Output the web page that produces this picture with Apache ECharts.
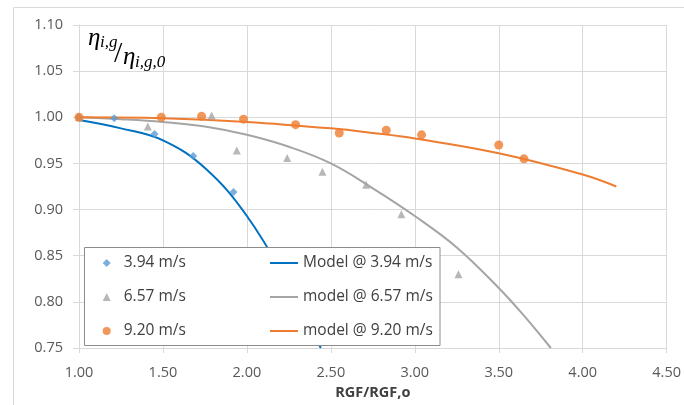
<!DOCTYPE html>
<html>
<head>
<meta charset="utf-8">
<script src="https://cdn.jsdelivr.net/npm/echarts@6/dist/echarts.min.js"></script>
<style>
  html, body { margin: 0; padding: 0; background: #ffffff; }
  #chart { width: 684px; height: 405px; }
</style>
</head>
<body>
<div id="chart"></div>
<script>
// Axis ticks
const xTicks = [1.00, 1.50, 2.00, 2.50, 3.00, 3.50, 4.00, 4.50];
const yTicks = [0.75, 0.80, 0.85, 0.90, 0.95, 1.00, 1.05, 1.10];

// Measured efficiency ratios [RGF/RGF,o, eta/eta0]
const meas394 = [[1.00, 1.000], [1.21, 0.999], [1.45, 0.982], [1.68, 0.958], [1.92, 0.919]];
const meas657 = [[1.00, 1.000], [1.41, 0.990], [1.79, 1.002], [1.94, 0.964], [2.24, 0.956],
                 [2.45, 0.941], [2.71, 0.927], [2.92, 0.895], [3.26, 0.830]];
const meas920 = [[1.00, 1.000], [1.49, 1.000], [1.73, 1.001], [1.98, 0.998], [2.29, 0.992],
                 [2.55, 0.983], [2.83, 0.986], [3.04, 0.981], [3.50, 0.970], [3.65, 0.955]];

// Model curves
const model394 = [[1.00, 0.997], [1.25, 0.988], [1.50, 0.975], [1.75, 0.945], [2.00, 0.893],
                  [2.25, 0.818], [2.44, 0.750]];
const model657 = [[1.00, 1.000], [1.25, 0.998], [1.50, 0.995], [1.75, 0.990], [2.00, 0.981],
                  [2.25, 0.968], [2.50, 0.950], [2.75, 0.923], [3.00, 0.893], [3.25, 0.859],
                  [3.50, 0.815], [3.65, 0.785], [3.81, 0.750]];
const model920 = [[1.00, 1.000], [1.50, 0.999], [2.00, 0.995], [2.50, 0.988], [2.75, 0.983],
                  [3.00, 0.977], [3.50, 0.961], [4.00, 0.938], [4.20, 0.925]];

const measNames = ['3.94 m/s', '6.57 m/s', '9.20 m/s'];
const measIcons = ['diamond', 'triangle', 'circle'];
const modelNames = ['Model @ 3.94 m/s', 'model @ 6.57 m/s', 'model @ 9.20 m/s'];

const BLUE_PT = '#5b9bd5', BLUE_LN = '#0070c0';
const GRAY_PT = '#a5a5a5', GRAY_LN = '#a5a5a5';
const ORANGE = '#ed7d31';
const GRID = '#d9d9d9';
const TXT = '#404040';
const UI_FONT = '"Open Sans", "Liberation Sans", sans-serif';
const MATH_FONT = '"Liberation Serif", "DejaVu Serif", serif';

const chart = echarts.init(document.getElementById('chart'), null, { renderer: 'canvas' });

function scatter(name, data, symbol, size, color) {
  return { type: 'scatter', name, data, symbol, symbolSize: size,
           itemStyle: { color }, z: 2 };
}
function model(name, data, color) {
  return { type: 'line', name, data, smooth: 0.4,
           symbol: 'none', showSymbol: false, clip: true,
           lineStyle: { color, width: 2 }, itemStyle: { color }, z: 2 };
}

const legendText = { fontFamily: UI_FONT, fontSize: 15.5, color: TXT, lineHeight: 16 };

chart.setOption({
  animation: false,
  backgroundColor: '#ffffff',
  grid: { left: 79, top: 25, right: 13.3, bottom: 52.3, containLabel: false },
  xAxis: {
    type: 'value',
    min: xTicks[0], max: xTicks[xTicks.length - 1], interval: xTicks[1] - xTicks[0],
    name: 'RGF/RGF,o', nameLocation: 'middle', nameGap: 37,
    nameTextStyle: { fontFamily: UI_FONT, fontSize: 14.5, fontWeight: 'bold', color: TXT },
    axisLine: { show: true, lineStyle: { color: GRID, width: 1 } },
    axisTick: { show: true, length: 5, lineStyle: { color: GRID } },
    splitLine: { show: true, lineStyle: { color: GRID, width: 1 } },
    axisLabel: { fontFamily: UI_FONT, fontSize: 14.5, color: '#595959', margin: 17,
                 formatter: v => v.toFixed(2) }
  },
  yAxis: {
    type: 'value',
    min: yTicks[0], max: yTicks[yTicks.length - 1], interval: 0.05,
    axisLine: { show: true, lineStyle: { color: GRID, width: 1 } },
    axisTick: { show: true, length: 6, lineStyle: { color: GRID } },
    splitLine: { show: true, lineStyle: { color: GRID, width: 1 } },
    axisLabel: { fontFamily: UI_FONT, fontSize: 14.5, color: '#595959', margin: 16,
                 formatter: v => v.toFixed(2) }
  },
  legend: [
    { data: measNames.map((n, i) => ({ name: n, icon: measIcons[i] })),
      orient: 'vertical', left: 102.7, top: 255, padding: 0,
      itemWidth: 8, itemHeight: 8, itemGap: 18, z: 10,
      textStyle: Object.assign({ padding: [0, 0, 0, 8] }, legendText) },
    { data: modelNames.map(n => ({ name: n, icon: 'rect' })),
      orient: 'vertical', left: 270, top: 255, padding: 0,
      itemWidth: 28, itemHeight: 2, itemGap: 18, z: 10, textStyle: legendText }
  ],
  graphic: [
    { type: 'rect', z: 0, silent: true,
      shape: { x: 13.5, y: 7.5, width: 700, height: 420 },
      style: { fill: 'none', stroke: GRID, lineWidth: 1 } },
    { type: 'rect', z: 5, silent: true,
      shape: { x: 84.5, y: 247.5, width: 355.5, height: 98 },
      style: { fill: '#ffffff', stroke: '#8c8c8c', lineWidth: 1 } },
    { type: 'text', z: 6, x: 88, y: 38, style: { text: 'η', font: 'italic 25px ' + MATH_FONT, fill: '#000', verticalAlign: 'middle' } },
    { type: 'text', z: 6, x: 100, y: 43, style: { text: 'i,g', font: 'italic 17px ' + MATH_FONT, fill: '#000', verticalAlign: 'middle' } },
    { type: 'text', z: 6, x: 114, y: 54, style: { text: '/', font: '30px ' + MATH_FONT, fill: '#000', verticalAlign: 'middle' } },
    { type: 'text', z: 6, x: 123, y: 57, style: { text: 'η', font: 'italic 25px ' + MATH_FONT, fill: '#000', verticalAlign: 'middle' } },
    { type: 'text', z: 6, x: 135, y: 63, style: { text: 'i,g,0', font: 'italic 17px ' + MATH_FONT, fill: '#000', verticalAlign: 'middle' } }
  ],
  series: [
    scatter(measNames[0], meas394, 'diamond', 8, BLUE_PT),
    scatter(measNames[1], meas657, 'triangle', 8, GRAY_PT),
    scatter(measNames[2], meas920, 'circle', 9, ORANGE),
    model(modelNames[0], model394, BLUE_LN),
    model(modelNames[1], model657, GRAY_LN),
    model(modelNames[2], model920, ORANGE)
  ]
});
</script>
</body>
</html>
